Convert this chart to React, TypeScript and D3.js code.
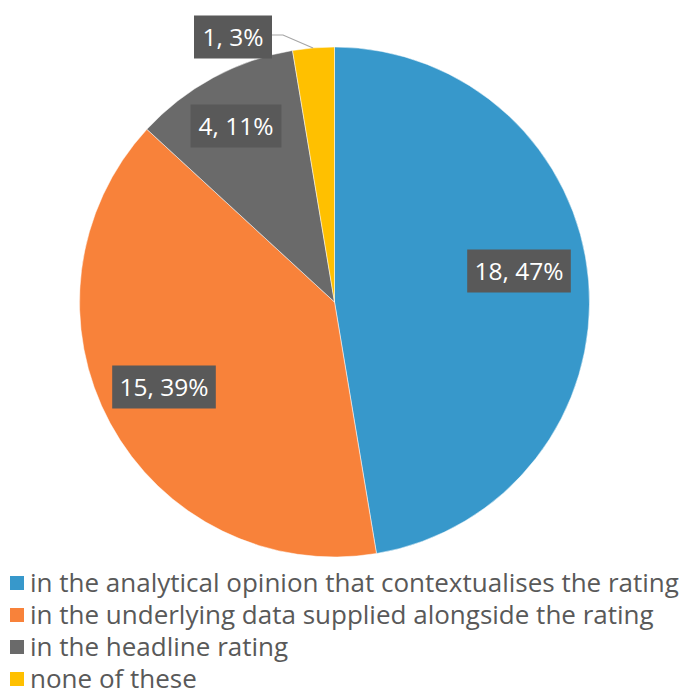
import React from "react";
import * as d3 from "d3";

const categories = [
  "in the analytical opinion that contextualises the rating",
  "in the underlying data supplied alongside the rating",
  "in the headline rating",
  "none of these",
];
const values = [18, 15, 4, 1];
const percentLabels = ["47%", "39%", "11%", "3%"];
const colors = ["#3798CB", "#F8823A", "#6A6A6A", "#FFC000"];

const W = 683;
const H = 692;
const cx = 334.5;
const cy = 302;
const R = 255;

// label box centers (manual placement as in original)
const labelPos: [number, number][] = [
  [519, 271],
  [164, 387],
  [236, 126],
  [233, 37],
];

export default function App() {
  const pie = d3.pie<number>().sort(null).value((d) => d)(values);
  const arc = d3.arc<d3.PieArcDatum<number>>().innerRadius(0).outerRadius(R);
  const font = "'Open Sans', sans-serif";
  const labelFont = 24.5;
  const boxW = (s: string) => s.length * 12.8 + 14;
  return (
    <svg width={W} height={H} style={{ position: "absolute", left: 0, top: 0, background: "#fff" }}>
      <g transform={`translate(${cx},${cy})`}>
        {pie.map((p, i) => (
          <path key={i} d={arc(p) || ""} fill={colors[i]} stroke="#fff" strokeWidth={0.5} />
        ))}
      </g>
      <polyline points="272,35 283,35 313,48" fill="none" stroke="#A6A6A6" strokeWidth={1.2} />
      {values.map((v, i) => {
        const t = `${v}, ${percentLabels[i]}`;
        const [x, y] = labelPos[i];
        const bw = boxW(t);
        return (
          <g key={i}>
            <rect x={x - bw / 2} y={y - 21.5} width={bw} height={43} fill="#595959" />
            <text x={x} y={y} dy="0.36em" textAnchor="middle" fill="#fff" fontFamily={font} fontSize={labelFont}>
              {t}
            </text>
          </g>
        );
      })}
      {categories.map((c, i) => {
        const y = 583 + i * 32;
        return (
          <g key={i}>
            <rect x={10} y={y - 7} width={14} height={14} fill={colors[i]} />
            <text x={30} y={y} dy="0.36em" fill="#595959" fontFamily={font} fontSize={26}>
              {c}
            </text>
          </g>
        );
      })}
    </svg>
  );
}
